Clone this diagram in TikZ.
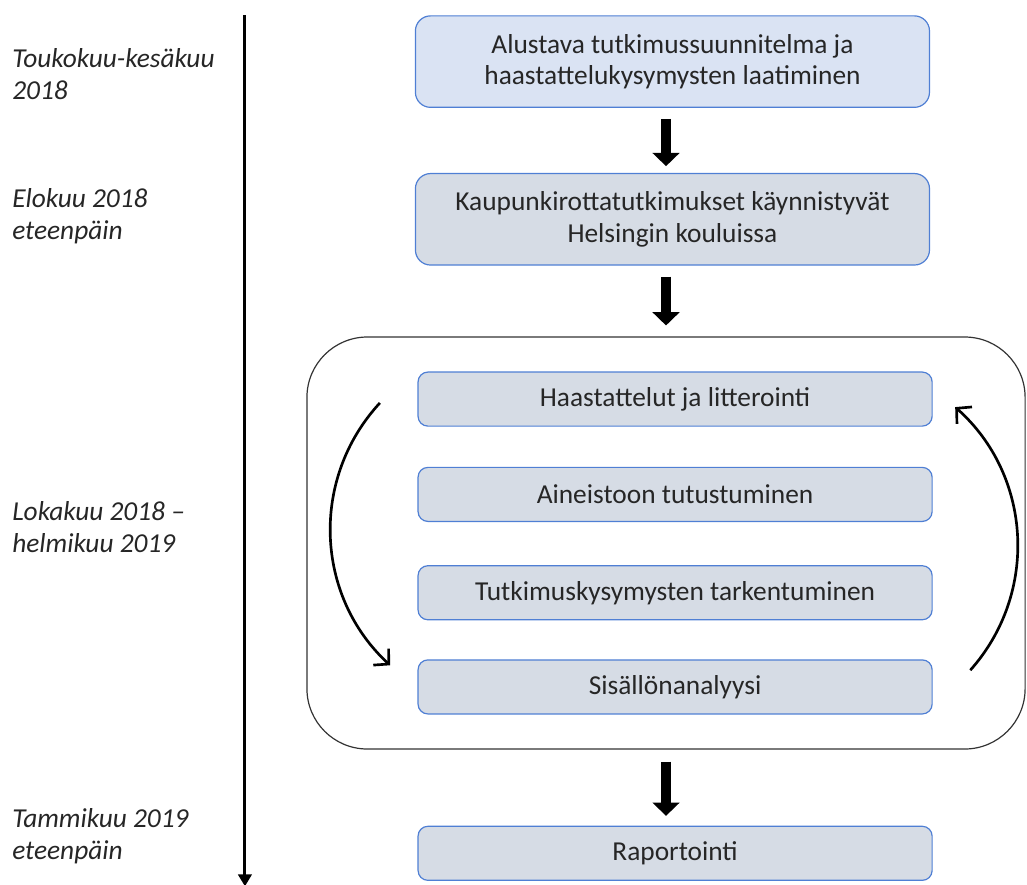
\documentclass[tikz,border=0pt]{standalone}
\usepackage{fontspec}
\setmainfont{Carlito}
\usepackage{tikz}
\usetikzlibrary{arrows.meta,positioning,calc}
\definecolor{boxblue}{HTML}{DAE3F3}
\definecolor{boxgrey}{HTML}{D6DCE5}
\definecolor{edgeblue}{HTML}{4F7FD4}
\definecolor{txt}{HTML}{262626}

\begin{document}
\begin{tikzpicture}[
  node distance=1.08cm,
  stage/.style={rectangle, draw=edgeblue, line width=0.9pt, fill=boxgrey, minimum width=13.6cm, align=center, text=txt, font=\fontsize{20.6}{23.5}\selectfont},
  bigstage/.style={stage, rounded corners=0.4cm, minimum height=2.42cm},
  substage/.style={stage, rounded corners=0.26cm, minimum height=1.43cm},
  loopbox/.style={rectangle, draw=black!80, line width=0.9pt, rounded corners=1.6cm, minimum width=19cm, minimum height=10.9cm},
  period/.style={anchor=west, align=left, text=txt, font=\fontsize{20.6}{24.5}\selectfont\itshape},
  blockarrow/.style={-{Triangle[width=20pt,length=10pt]}, line width=8pt},
  cyclearrow/.style={-{Straight Barb[width=17pt,length=8pt]}, line width=2pt},
  timeline/.style={-{Triangle[width=10pt,length=9pt]}, line width=2.2pt}
]
\useasboundingbox (0,0) rectangle (27.17,-23.39);

% Stages
\node[bigstage, fill=boxblue] (plan) at (17.79,-1.63) {Alustava tutkimussuunnitelma ja\\haastattelukysymysten laatiminen};
\node[bigstage, below=1.72cm of plan] (start) {Kaupunkirottatutkimukset käynnistyvät\\Helsingin kouluissa};

% Iterative phase
\node[substage, below=2.8cm of start, xshift=0.07cm] (interv) {Haastattelut ja litterointi};
\node[substage, below=1.06cm of interv] (data) {Aineistoon tutustuminen};
\node[substage, below=1.14cm of data] (quest) {Tutkimuskysymysten tarkentuminen};
\node[substage, below=1.03cm of quest] (anal) {Sisällönanalyysi};
\node[loopbox] (loop) at ($(interv.north)!0.5!(anal.south)+(-0.24,0)$) {};
\node[substage, below=2.94cm of anal] (report) {Raportointi};

% Arrows
\draw[blockarrow, shorten <=0.29cm, shorten >=0.18cm] (plan.south -| loop.north) -- (start.north -| loop.north);
\draw[blockarrow, shorten <=0.29cm, shorten >=0.29cm] (start.south -| loop.north) -- (loop.north);
\draw[blockarrow, shorten <=0.32cm, shorten >=0.26cm] (loop.south) -- (report.north -| loop.south);

% Cycle
\coordinate (c1) at (10.05,-10.66);
\coordinate (c2) at (10.32,-17.60);
\coordinate (c3) at (25.67,-17.73);
\coordinate (c4) at (25.27,-10.77);
\draw[cyclearrow] (c1) to[bend right=45] (c2);
\draw[cyclearrow] (c3) to[bend right=45] (c4);

% Time axis
\coordinate (t0) at (6.48,-0.40);
\coordinate (t1) at (6.48,-23.45);
\draw[timeline] (t0) -- (t1);
\node[period] (p1) at (0.2,-1.96) {Toukokuu-kesäkuu\\2018};
\node[period] (p2) at (0.2,-5.72) {Elokuu 2018\\eteenpäin};
\node[period] (p3) at (0.2,-13.94) {Lokakuu 2018 –\\helmikuu 2019};
\node[period] (p4) at (0.2,-22.12) {Tammikuu 2019\\eteenpäin};

\end{tikzpicture}
\end{document}
